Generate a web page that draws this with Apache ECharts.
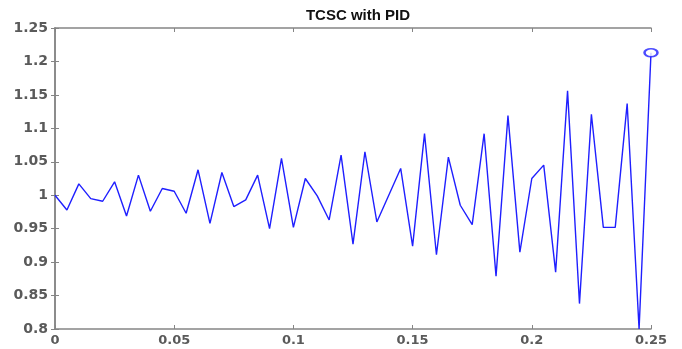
<!DOCTYPE html>
<html>
<head>
<meta charset="utf-8">
<script src="https://cdn.jsdelivr.net/npm/echarts@6/dist/echarts.min.js"></script>
<style>
html,body{margin:0;padding:0;background:#fff;}
#chart{width:682px;height:349px;}
</style>
</head>
<body>
<div id="chart"></div>
<script>
var timeValues = [0, 0.005, 0.01, 0.015, 0.02, 0.025, 0.03, 0.035, 0.04, 0.045,
  0.05, 0.055, 0.06, 0.065, 0.07, 0.075, 0.08, 0.085, 0.09, 0.095,
  0.1, 0.105, 0.11, 0.115, 0.12, 0.125, 0.13, 0.135, 0.14, 0.145,
  0.15, 0.155, 0.16, 0.165, 0.17, 0.175, 0.18, 0.185, 0.19, 0.195,
  0.2, 0.205, 0.21, 0.215, 0.22, 0.225, 0.23, 0.235, 0.24, 0.245, 0.25];
var signalValues = [1.0, 0.978, 1.017, 0.995, 0.991, 1.02, 0.969, 1.03, 0.976, 1.01,
  1.006, 0.973, 1.038, 0.958, 1.034, 0.983, 0.993, 1.03, 0.95, 1.055,
  0.952, 1.025, 0.999, 0.963, 1.06, 0.927, 1.065, 0.96, 1.0, 1.04,
  0.924, 1.092, 0.911, 1.057, 0.985, 0.956, 1.092, 0.879, 1.119, 0.915,
  1.025, 1.045, 0.885, 1.156, 0.838, 1.121, 0.952, 0.952, 1.137, 0.8, 1.213];
var xTickLabels = ['0', '0.05', '0.1', '0.15', '0.2', '0.25'];
var yTickLabels = ['0.8', '0.85', '0.9', '0.95', '1', '1.05', '1.1', '1.15', '1.2', '1.25'];
var titleText = 'TCSC with PID';

var lineData = timeValues.map(function (t, i) { return [t, signalValues[i]]; });
var lastIdx = timeValues.length - 1;
var endPoint = [[timeValues[lastIdx], signalValues[lastIdx]]];

var frameColor = '#858585';
var labelColor = '#5a5a5a';
var blue = '#1f1fff';

function xFmt(v) { var i = Math.round(v / 0.05); return xTickLabels[i] !== undefined ? xTickLabels[i] : ''; }
function yFmt(v) { var i = Math.round((v - 0.8) / 0.05); return yTickLabels[i] !== undefined ? yTickLabels[i] : ''; }

var axisCommon = {
  type: 'value',
  axisLine: { show: true, lineStyle: { color: frameColor, width: 1.5 } },
  axisTick: { show: true, inside: true, length: 4, lineStyle: { color: frameColor, width: 1 } },
  splitLine: { show: false }
};

var chart = echarts.init(document.getElementById('chart'), null, { renderer: 'canvas' });
chart.setOption({
  animation: false,
  backgroundColor: '#ffffff',
  title: {
    text: titleText,
    left: 353, top: 3, textAlign: 'center',
    textStyle: { fontFamily: 'Liberation Sans', fontWeight: 'bold', fontSize: 15, color: '#111' }
  },
  grid: { left: 55, right: 31, top: 28, bottom: 20, containLabel: false },
  xAxis: [
    Object.assign({}, axisCommon, {
      position: 'bottom', min: 0, max: 0.25, interval: 0.05,
      axisLabel: { show: true, margin: 5, formatter: xFmt, color: labelColor,
        fontFamily: 'DejaVu Sans', fontWeight: 'bold', fontSize: 13 }
    }),
    Object.assign({}, axisCommon, {
      position: 'top', min: 0, max: 0.25, interval: 0.05,
      axisLabel: { show: false }
    })
  ],
  yAxis: [
    Object.assign({}, axisCommon, {
      position: 'left', min: 0.8, max: 1.25, interval: 0.05,
      axisLabel: { show: true, margin: 7, formatter: yFmt, color: labelColor,
        fontFamily: 'DejaVu Sans', fontWeight: 'bold', fontSize: 14 }
    }),
    Object.assign({}, axisCommon, {
      position: 'right', min: 0.8, max: 1.25, interval: 0.05,
      axisLabel: { show: false }
    })
  ],
  series: [
    {
      type: 'line', xAxisIndex: 0, yAxisIndex: 0,
      data: lineData, symbol: 'none', smooth: false,
      lineStyle: { color: blue, width: 1.4 },
      clip: true
    },
    {
      type: 'scatter', xAxisIndex: 0, yAxisIndex: 0,
      data: endPoint, symbol: 'emptyCircle', symbolSize: [13, 8],
      itemStyle: { color: blue, borderColor: blue, borderWidth: 1.5 },
      clip: false, z: 5
    }
  ]
});
</script>
</body>
</html>
